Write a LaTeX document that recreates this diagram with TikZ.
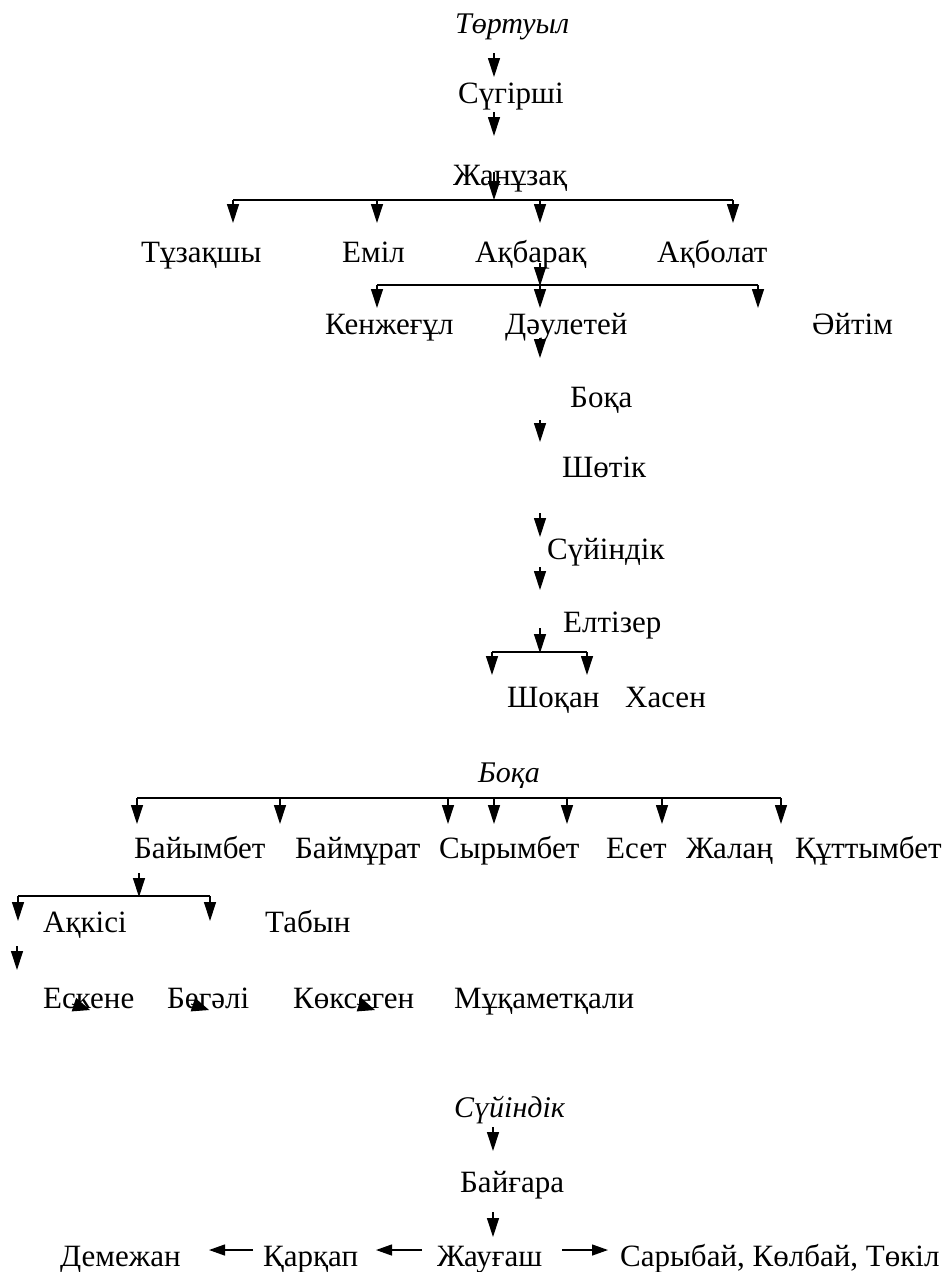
\documentclass[tikz,border=0pt]{standalone}
\usepackage{fontspec}
\setmainfont{Liberation Serif}
\usetikzlibrary{arrows.meta}
\tikzset{
  kname/.style={anchor=base west, inner sep=0pt, font=\fontsize{31}{37}\selectfont},
  kiname/.style={kname, font=\fontsize{30}{36}\selectfont\itshape},
  arr/.style={line width=1.2pt, -{Triangle[width=12pt,length=19pt]}},
  harr/.style={line width=1.3pt, -{Triangle[width=11pt,length=16pt]}},
  tarr/.style={line width=1pt, -{Triangle[width=14pt,length=17pt]}},
  kbar/.style={line width=1.4pt},
}
\begin{document}
\begin{tikzpicture}[x=1pt,y=-1pt]
\useasboundingbox (0,0) rectangle (949,1272);
% ---------- first tree ----------
\node[kiname] (tortuyl) at (455,33) {Төртуыл};
\node[kname] (sugirshi) at (458,103) {Сүгірші};
\node[kname] (zhanuzaq) at (453,185) {Жанұзақ};
\node[kname] (tuzaqshy) at (141,262) {Тұзақшы};
\node[kname] (emil) at (342,262) {Еміл};
\node[kname] (aqbaraq) at (475,262) {Ақбарақ};
\node[kname] (aqbolat) at (657,262) {Ақболат};
\node[kname] (kenzhegul) at (325,334) {Кенжеғұл};
\node[kname] (dauletey) at (505,334) {Дәулетей};
\node[kname] (aytim) at (812,334) {Әйтім};
\node[kname] (boqaA) at (570,407) {Боқа};
\node[kname] (shotik) at (562,477) {Шөтік};
\node[kname] (suyindikA) at (547,559) {Сүйіндік};
\node[kname] (eltizer) at (563,632) {Елтізер};
\node[kname] (shoqan) at (507,707) {Шоқан};
\node[kname] (khasen) at (625,707) {Хасен};

\coordinate (a1s) at (494,53);  \coordinate (a1e) at (494,77);
\coordinate (a2s) at (494,112); \coordinate (a2e) at (494,136);
\coordinate (a3s) at (494,172); \coordinate (a3e) at (494,200);
\draw[arr] (a1s) -- (a1e);
\draw[arr] (a2s) -- (a2e);
\draw[arr] (a3s) -- (a3e);
\coordinate (b1L) at (233,200); \coordinate (b1R) at (733,200);
\coordinate (b1a) at (377,200); \coordinate (b1b) at (540,200);
\draw[kbar] (b1L) -- (b1R);
\foreach \c in {b1L,b1a,b1b,b1R} \draw[arr] (\c) -- ++(0,23);

\coordinate (a4s) at (540,263); \coordinate (a4e) at (540,286);
\draw[arr] (a4s) -- (a4e);
\coordinate (b2L) at (377,285); \coordinate (b2M) at (540,285); \coordinate (b2R) at (758,285);
\draw[kbar] (b2L) -- (b2R);
\foreach \c in {b2L,b2M,b2R} \draw[arr] (\c) -- ++(0,23);

\coordinate (a5s) at (540,338); \coordinate (a5e) at (540,358);
\coordinate (a6s) at (540,420); \coordinate (a6e) at (540,442);
\coordinate (a7s) at (540,513); \coordinate (a7e) at (540,537);
\coordinate (a8s) at (540,567); \coordinate (a8e) at (540,590);
\coordinate (a9s) at (540,628); \coordinate (a9e) at (540,653);
\foreach \i in {5,...,9} \draw[arr] (a\i s) -- (a\i e);
\coordinate (b3L) at (492,652); \coordinate (b3R) at (587,652);
\draw[kbar] (b3L) -- (b3R);
\foreach \c in {b3L,b3R} \draw[arr] (\c) -- ++(0,23);

% ---------- second tree ----------
\node[kiname] (boqaB) at (478,782) {Боқа};
\node[kname] (baiymbet) at (134,858) {Байымбет};
\node[kname] (baimurat) at (295,858) {Баймұрат};
\node[kname] (syrymbet) at (439,858) {Сырымбет};
\node[kname] (eset) at (606,858) {Есет};
\node[kname] (zhalang) at (686,858) {Жалаң};
\node[kname] (quttymbet) at (795,858) {Құттымбет};
\node[kname] (aqkisi) at (43,932) {Ақкісі};
\node[kname] (tabyn) at (265,932) {Табын};
\node[kname] (eskene) at (43,1008) {Ескене};
\node[kname] (begali) at (167,1008) {Бегәлі};
\node[kname] (koksegen) at (293,1008) {Көксеген};
\node[kname] (muqametqali) at (454,1008) {Мұқаметқали};

\coordinate (b4L) at (137,798); \coordinate (b4R) at (781,798);
\draw[kbar] (b4L) -- (b4R);
\foreach \x in {137,280,448,494,567,662,781} \draw[arr] (\x,798) -- ++(0,26);
\coordinate (a10s) at (139,873); \coordinate (a10e) at (139,897);
\draw[arr] (a10s) -- (a10e);
\coordinate (b5L) at (18,896); \coordinate (b5R) at (210,896);
\draw[kbar] (b5L) -- (b5R);
\foreach \c in {b5L,b5R} \draw[arr] (\c) -- ++(0,25);
\coordinate (a11s) at (17,946); \coordinate (a11e) at (17,970);
\draw[arr] (a11s) -- (a11e);
\foreach \x in {72,191,357} \draw[tarr] (\x,1004) -- ++(18,6);

% ---------- third tree ----------
\node[kiname] (suyindikB) at (454,1117) {Сүйіндік};
\node[kname] (baigara) at (460,1192) {Байғара};
\node[kname] (demezhan) at (60,1266) {Демежан};
\node[kname] (qarqap) at (263,1266) {Қарқап};
\node[kname] (zhaugash) at (437,1266) {Жауғаш};
\node[kname] (sarybai) at (620,1266) {Сарыбай, Көлбай, Төкіл};
\coordinate (a12s) at (493,1127); \coordinate (a12e) at (493,1151);
\coordinate (a13s) at (493,1212); \coordinate (a13e) at (493,1237);
\draw[arr] (a12s) -- (a12e);
\draw[arr] (a13s) -- (a13e);
\coordinate (h1s) at (253,1250); \coordinate (h1e) at (209,1250);
\coordinate (h2s) at (422,1250); \coordinate (h2e) at (376,1250);
\coordinate (h3s) at (562,1250); \coordinate (h3e) at (608,1250);
\draw[harr] (h1s) -- (h1e);
\draw[harr] (h2s) -- (h2e);
\draw[harr] (h3s) -- (h3e);
\end{tikzpicture}
\end{document}
